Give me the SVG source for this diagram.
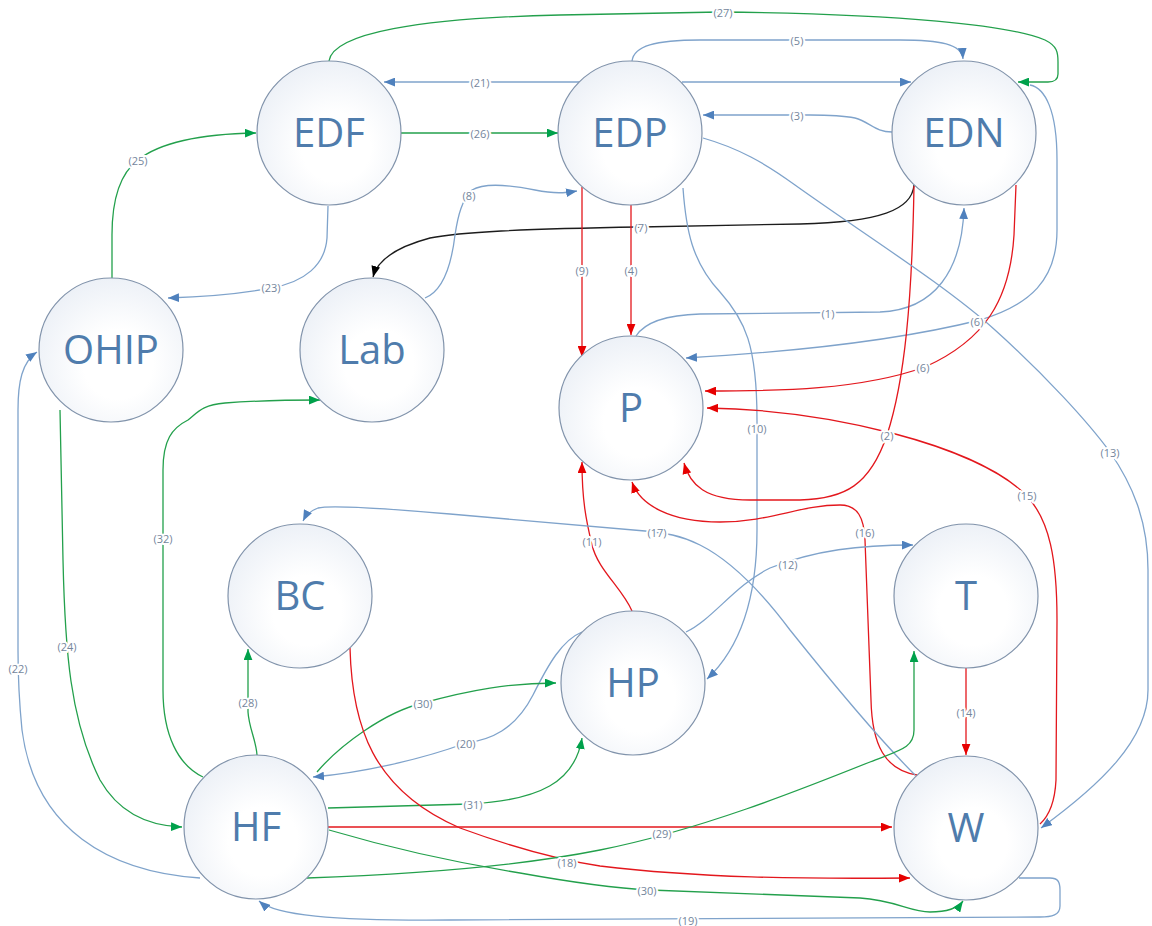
<svg xmlns="http://www.w3.org/2000/svg" width="1152" height="926" viewBox="0 0 1152 926">
  <style>
    .node circle { fill: url(#nodeFill); stroke: #8193ab; stroke-width: 1.2; }
    .node text { font-family: "Open Sans", "Noto Sans", sans-serif; font-size: 40px; fill: #4f7cac; text-anchor: middle; }
    .c { fill: none; stroke-width: 1.3; }
    .b { stroke: #7fa3cb; marker-end: url(#ab); }
    .g { stroke: #23a04c; marker-end: url(#ag); }
    .r { stroke: #e3171d; marker-end: url(#ar); }
    .k { stroke: #1c1c1c; marker-end: url(#ak); }
    .lbl { font-family: "Open Sans", "Noto Sans", sans-serif; font-size: 11px; fill: #74869c; text-anchor: middle; dominant-baseline: central; paint-order: stroke; stroke: #ffffff; stroke-width: 4px; stroke-linejoin: round; }
  </style>
  <defs>
    <radialGradient id="nodeFill" cx="55%" cy="60%" r="60%">
      <stop offset="0.4" stop-color="#ffffff"/>
      <stop offset="1" stop-color="#edf1f7"/>
    </radialGradient>
    <marker id="ab" viewBox="0 0 10 8" refX="10" refY="4" markerWidth="11" markerHeight="9" markerUnits="userSpaceOnUse" orient="auto">
      <path d="M0,0 L10,4 L0,8 z" fill="#4f81bd"/>
    </marker>
    <marker id="ag" viewBox="0 0 10 8" refX="10" refY="4" markerWidth="11" markerHeight="9" markerUnits="userSpaceOnUse" orient="auto">
      <path d="M0,0 L10,4 L0,8 z" fill="#00a14b"/>
    </marker>
    <marker id="ar" viewBox="0 0 10 8" refX="10" refY="4" markerWidth="11" markerHeight="9" markerUnits="userSpaceOnUse" orient="auto">
      <path d="M0,0 L10,4 L0,8 z" fill="#e60000"/>
    </marker>
    <marker id="ak" viewBox="0 0 10 8" refX="10" refY="4" markerWidth="11" markerHeight="9" markerUnits="userSpaceOnUse" orient="auto">
      <path d="M0,0 L10,4 L0,8 z" fill="#000000"/>
    </marker>
  </defs>
  <rect width="1152" height="926" fill="#ffffff"/>

  <g id="connectors">
    <!-- top row -->
    <path class="c g" d="M329,61 C333,33 420,18 560,15 L720,12 C900,14 1010,25 1045,40 C1057,46 1058,52 1058,62 L1058,74 C1058,80 1054,82 1048,82 L1018,82"/>
    <path class="c b" d="M632,61 C634,46 655,40 700,40 L900,40 C940,40 962,44 963,59"/>
    <path class="c b" d="M582,82 L384,82"/>
    <path class="c b" d="M682,82 L911,82"/>
    <path class="c g" d="M401,133 L558,133"/>
    <path class="c b" d="M892,132 C875,132 870,122 855,118 C845,116 830,115 810,115 L703,115"/>
    <path class="c k" d="M914,185 C912,210 880,222 800,224 L640,227 C520,229 460,232 430,238 C400,246 378,258 373,277"/>
    <path class="c b" d="M425,298 C445,290 452,260 455,235 C458,215 462,200 472,190 C485,182 510,185 535,190 C555,194 565,193 577,191"/>
    <!-- into P -->
    <path class="c r" d="M582,187 L582,357"/>
    <path class="c r" d="M631,205 L631,335"/>
    <path class="c b" d="M683,188 C686,230 692,262 720,292 C745,320 757,345 757,420 L757,530 C757,600 740,648 707,679"/>
    <path class="c b" d="M636,336 C645,322 665,315 700,314 L880,312 C935,310 962,270 964,208"/>
    <path class="c b" d="M1030,85 C1045,88 1057,110 1057,160 L1057,230 C1057,280 1030,305 980,320 C900,340 790,352 686,358"/>
    <path class="c r" d="M1016,185 L1014,235 C1010,300 985,340 925,367 C860,390 780,391 705,391"/>
    <path class="c r" d="M914,186 C912,300 905,380 887,435 C870,485 845,499 800,500 L750,500 C705,500 690,485 684,463"/>
    <path class="c b" d="M703,138 C738,148 765,163 795,185 C865,235 945,285 995,330 C1045,375 1088,422 1110,452 C1132,484 1148,520 1148,570 L1148,690 C1148,740 1100,785 1041,828"/>
    <path class="c r" d="M632,611 C622,588 598,570 592,545 C586,520 582,500 582,462"/>
    <path class="c r" d="M917,775 C885,770 872,745 871,700 L865,540 C864,518 858,505 840,505 C800,505 770,522 720,522 C670,522 640,505 632,482"/>
    <path class="c r" d="M1040,824 C1050,815 1055,800 1056,780 L1057,620 C1057,560 1050,520 1026,495 C975,445 830,410 707,408"/>
    <!-- lower area -->
    <path class="c b" d="M915,775 C880,740 830,680 790,630 C760,590 730,560 700,545 C680,535 665,533 645,531 L450,514 C380,508 330,505 318,508 C310,511 306,515 303,521"/>
    <path class="c b" d="M686,632 C712,620 735,585 770,568 C815,550 860,545 913,545"/>
    <path class="c r" d="M966,668 L966,755"/>
    <path class="c b" d="M582,632 C562,640 548,665 533,695 C515,730 490,740 466,743 C420,760 360,773 313,777"/>
    <path class="c g" d="M317,772 C340,745 385,712 423,703 C470,690 510,683 556,683"/>
    <path class="c g" d="M257,755 C256,740 249,728 248,712 L248,649"/>
    <path class="c g" d="M203,777 C178,765 163,735 163,690 L163,470 C163,440 172,428 188,420 C198,412 202,405 225,403 C265,400 295,400 320,400"/>
    <path class="c b" d="M200,878 C110,872 35,830 22,730 C19,700 18,680 18,650 L18,410 C18,382 22,362 37,352"/>
    <path class="c g" d="M60,410 L63,560 C65,650 70,720 100,780 C120,815 150,826 182,827"/>
    <path class="c g" d="M112,278 L112,235 C112,195 122,172 138,160 C158,144 195,134 256,133"/>
    <path class="c b" d="M328,206 L327,238 C325,265 305,282 271,288 C235,295 200,297 168,298"/>
    <path class="c b" d="M1019,878 L1050,878 C1058,878 1060,882 1060,890 L1060,906 C1060,915 1052,917 1040,917 L450,920 C330,921 275,915 259,901"/>
    <path class="c g" d="M328,808 L470,804 C540,800 575,782 582,738"/>
    <path class="c r" d="M328,827 L892,827"/>
    <path class="c r" d="M350,648 C352,725 372,790 460,828 C520,850 560,860 600,866 C700,878 800,879 910,878"/>
    <path class="c g" d="M307,878 C420,874 520,866 600,850 C700,830 800,790 870,762 C900,750 914,748 914,730 L914,651"/>
    <path class="c g" d="M329,830 C380,845 440,860 520,873 C570,882 610,888 650,890 L860,898 C895,900 910,912 930,912 C947,912 958,908 963,901"/>

    <!-- connector labels -->
    <text class="lbl" x="723" y="12">(27)</text>
    <text class="lbl" x="797" y="40">(5)</text>
    <text class="lbl" x="480" y="82">(21)</text>
    <text class="lbl" x="480" y="133">(26)</text>
    <text class="lbl" x="797" y="115">(3)</text>
    <text class="lbl" x="641" y="227">(7)</text>
    <text class="lbl" x="469" y="195">(8)</text>
    <text class="lbl" x="582" y="270">(9)</text>
    <text class="lbl" x="631" y="270">(4)</text>
    <text class="lbl" x="757" y="428">(10)</text>
    <text class="lbl" x="828" y="313">(1)</text>
    <text class="lbl" x="977" y="321">(6)</text>
    <text class="lbl" x="923" y="367">(6)</text>
    <text class="lbl" x="887" y="435">(2)</text>
    <text class="lbl" x="1110" y="452">(13)</text>
    <text class="lbl" x="592" y="541">(11)</text>
    <text class="lbl" x="865" y="532">(16)</text>
    <text class="lbl" x="1027" y="495">(15)</text>
    <text class="lbl" x="657" y="532">(17)</text>
    <text class="lbl" x="788" y="564">(12)</text>
    <text class="lbl" x="966" y="712">(14)</text>
    <text class="lbl" x="466" y="743">(20)</text>
    <text class="lbl" x="423" y="703">(30)</text>
    <text class="lbl" x="248" y="702">(28)</text>
    <text class="lbl" x="163" y="538">(32)</text>
    <text class="lbl" x="18" y="668">(22)</text>
    <text class="lbl" x="67" y="646">(24)</text>
    <text class="lbl" x="138" y="160">(25)</text>
    <text class="lbl" x="271" y="287">(23)</text>
    <text class="lbl" x="688" y="920">(19)</text>
    <text class="lbl" x="473" y="804">(31)</text>
    <text class="lbl" x="567" y="862">(18)</text>
    <text class="lbl" x="662" y="833">(29)</text>
    <text class="lbl" x="647" y="890">(30)</text>
  </g>

  <g id="node-EDF" class="node"><circle cx="329" cy="133" r="72"/><text x="329" y="147">EDF</text></g>
  <g id="node-EDP" class="node"><circle cx="630" cy="133" r="72"/><text x="630" y="147">EDP</text></g>
  <g id="node-EDN" class="node"><circle cx="964" cy="133" r="72"/><text x="964" y="147">EDN</text></g>
  <g id="node-OHIP" class="node"><circle cx="111" cy="350" r="72"/><text x="111" y="364">OHIP</text></g>
  <g id="node-Lab" class="node"><circle cx="372" cy="350" r="72"/><text x="372" y="364">Lab</text></g>
  <g id="node-P" class="node"><circle cx="631" cy="408" r="72"/><text x="631" y="422">P</text></g>
  <g id="node-BC" class="node"><circle cx="300" cy="596" r="72"/><text x="300" y="610">BC</text></g>
  <g id="node-T" class="node"><circle cx="966" cy="596" r="72"/><text x="966" y="610">T</text></g>
  <g id="node-HP" class="node"><circle cx="633" cy="683" r="72"/><text x="633" y="697">HP</text></g>
  <g id="node-HF" class="node"><circle cx="256" cy="827" r="72"/><text x="256" y="841">HF</text></g>
  <g id="node-W" class="node"><circle cx="966" cy="828" r="72"/><text x="966" y="842">W</text></g>
</svg>
